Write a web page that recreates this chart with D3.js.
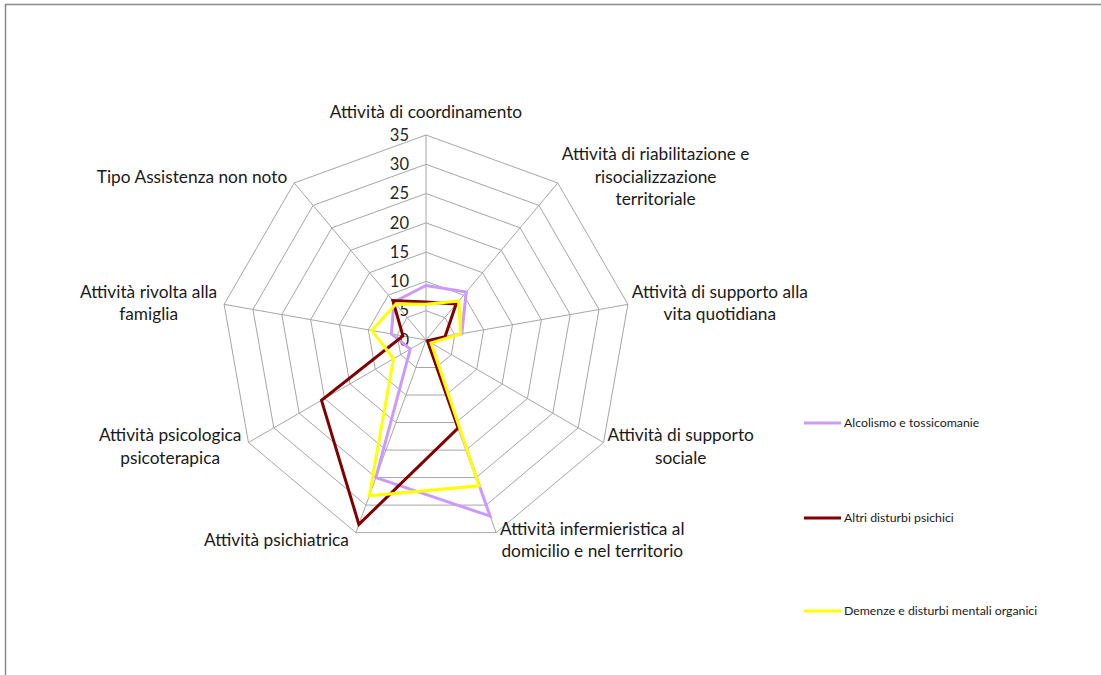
<!DOCTYPE html>
<html>
<head>
<meta charset="utf-8">
<script src="https://cdn.jsdelivr.net/npm/d3@7"></script>
<style>
  body { margin: 0; background: #fff; }
  svg { display: block; font-family: Lato, "Open Sans", sans-serif; }
</style>
</head>
<body>
<svg width="1101" height="675"></svg>
<script>
// categories (clockwise from the top), label lines as wrapped in the chart
var categories = [
  ["Attività di coordinamento"],
  ["Attività di riabilitazione e", "risocializzazione", "territoriale"],
  ["Attività di supporto alla", "vita quotidiana"],
  ["Attività di supporto", "sociale"],
  ["Attività infermieristica al", "domicilio e nel territorio"],
  ["Attività psichiatrica"],
  ["Attività psicologica", "psicoterapica"],
  ["Attività rivolta alla", "famiglia"],
  ["Tipo Assistenza non noto"]
];

var seriesNames = ["Alcolismo e tossicomanie", "Altri disturbi psichici", "Demenze e disturbi mentali organici"];
var alcolismo = [9.3, 10.7, 6.2, 0.5, 32, 25, 3.1, 6, 8.5];
var altri     = [6.5, 8.0, 3.3, 0.3, 16, 33.5, 20.6, 4, 8.8];
var demenze   = [6.1, 8.7, 6.0, 1.0, 26.5, 28.3, 6.4, 9.4, 8.0];
var ticks = [0, 5, 10, 15, 20, 25, 30, 35];
var colors = ["#CC99FF", "#800000", "#FFFF00"];

function main(){
    var svg = d3.select("svg");
    var cx = 426, cy = 340;
    var n = categories.length;

    // frame of the chart area
    svg.append("path")
        .attr("d", "M5.5,675 L5.5,4.5 L1101,4.5")
        .attr("fill", "none")
        .attr("stroke", "#898989")
        .attr("stroke-width", 1.5);

    var rScale = d3.scaleLinear().domain([0, 35]).range([0, 205]);
    var angle = d3.scaleLinear().domain([0, n]).range([0, 2 * Math.PI]);

    function pt(i, v){
        var a = angle(i);
        return [cx + rScale(v) * Math.sin(a), cy - rScale(v) * Math.cos(a)];
    }

    var g = svg.append("g");

    // rings
    ticks.slice(1).forEach(function(t){
        g.append("polygon")
            .attr("points", d3.range(n).map(function(i){ return pt(i, t).join(","); }).join(" "))
            .attr("fill", "none")
            .attr("stroke", "#a6a6a6")
            .attr("stroke-width", 1);
    });

    // spokes
    g.selectAll(".spoke")
        .data(d3.range(n))
        .enter()
        .append("line")
        .attr("class", "spoke")
        .attr("x1", cx).attr("y1", cy)
        .attr("x2", function(i){ return pt(i, 35)[0]; })
        .attr("y2", function(i){ return pt(i, 35)[1]; })
        .attr("stroke", "#a6a6a6")
        .attr("stroke-width", 1);

    // tick labels along the top spoke
    g.selectAll(".tick")
        .data(ticks)
        .enter()
        .append("text")
        .attr("class", "tick")
        .attr("x", cx - 17)
        .attr("y", function(d){ return cy - rScale(d); })
        .attr("dy", "0.35em")
        .attr("text-anchor", "end")
        .attr("font-size", "16.5px")
        .attr("fill", "#262626")
        .text(function(d){ return d; });

    // series
    var line = d3.lineRadial()
        .angle(function(d, i){ return angle(i); })
        .radius(function(d){ return rScale(d); })
        .curve(d3.curveLinearClosed);

    [alcolismo, altri, demenze].forEach(function(vals, k){
        g.append("path")
            .attr("transform", "translate(" + cx + "," + cy + ")")
            .attr("d", line(vals))
            .attr("fill", "none")
            .attr("stroke", colors[k])
            .attr("stroke-width", 3)
            .attr("stroke-linejoin", "miter");
    });

    // category labels
    var lh = 22.5;
    categories.forEach(function(lines, i){
        var a = angle(i);
        var v = pt(i, 35);
        var s = Math.sin(a), c = Math.cos(a);
        var t = svg.append("text")
            .attr("font-size", "17.3px")
            .attr("fill", "#1a1a1a")
            .attr("text-anchor", "middle");
        lines.forEach(function(l){
            t.append("tspan").text(l);
        });
        var w = 0;
        t.selectAll("tspan").each(function(){ w = Math.max(w, this.getComputedTextLength()); });
        var mx, my;
        if (Math.abs(s) < 0.01) {
            mx = v[0];
            my = v[1] - 23 - (lines.length - 1) * lh;
        } else {
            mx = s > 0 ? v[0] + 4 + w / 2 : v[0] - 7 - w / 2;
            my = v[1] - c * 8;
        }
        var y0 = my - (lines.length - 1) * lh / 2;
        t.selectAll("tspan")
            .attr("x", mx)
            .attr("y", function(d, j){ return y0 + j * lh; })
            .attr("dy", "0.35em");
    });

    // legend
    var legY = [423, 518, 611];
    var leg = svg.append("g");
    seriesNames.forEach(function(name, k){
        leg.append("line")
            .attr("x1", 804).attr("x2", 841)
            .attr("y1", legY[k]).attr("y2", legY[k])
            .attr("stroke", colors[k])
            .attr("stroke-width", 3);
        leg.append("text")
            .attr("x", 844)
            .attr("y", legY[k])
            .attr("dy", "0.35em")
            .attr("font-size", "12.3px")
            .attr("fill", "#1a1a1a")
            .text(name);
    });
}
main();
</script>
</body>
</html>
